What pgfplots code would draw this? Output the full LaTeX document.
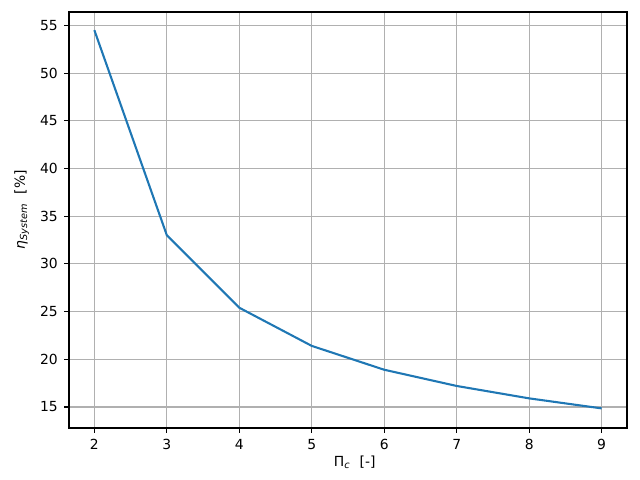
\documentclass[border=0pt]{standalone}
\usepackage{pgfplots}
\pgfplotsset{compat=1.18}
\usepackage{fontspec}
\setmainfont{DejaVu Sans}
\definecolor{mplblue}{HTML}{1F77B4}
\definecolor{gridgray}{HTML}{B0B0B0}
\begin{document}
\begin{tikzpicture}
    \begin{axis}
        [
            scale only axis,
            width=401.8pt,
            height=299.5pt,
            xmin=1.65, xmax=9.35,
            ymin=12.8, ymax=56.4,
            xtick={2,3,...,9},
            ytick={15,20,...,55},
            grid=major,
            major grid style={gridgray, line width=0.8pt},
            axis line style={line width=0.8pt},
            tick style={black, line width=0.8pt},
            tick align=outside,
            tick pos=left,
            major tick length=3.5pt,
            ticklabel style={font=\fontsize{10}{12}\selectfont},
            /pgf/number format/assume math mode=true,
            xticklabel style={yshift=-1pt},
            yticklabel style={xshift=-1pt},
            label style={font=\fontsize{10}{12}\selectfont},
            xlabel={Π\textsubscript{\textit{c}}\hspace{0.35em} [-]},
            ylabel={\textit{η}\textsubscript{\textit{System}}\hspace{0.35em} [\%]},
            xlabel style={at={(ticklabel cs:0.512)}, yshift=2pt},
            ylabel style={at={(ticklabel cs:0.525)}, yshift=1pt},
        ]
        \addplot [mplblue, line width=1.5pt] coordinates {
            (2, 54.5)
            (3, 33.0)
            (4, 25.4)
            (5, 21.4)
            (6, 18.9)
            (7, 17.2)
            (8, 15.9)
            (9, 14.85)
        };
        \coordinate (sw) at (rel axis cs:0,0);
        \coordinate (ne) at (rel axis cs:1,1);
    \end{axis}
    \path ([shift={(-49.68pt,-37.44pt)}]sw) rectangle ([shift={(9.36pt,8.64pt)}]ne);
\end{tikzpicture}
\end{document}
